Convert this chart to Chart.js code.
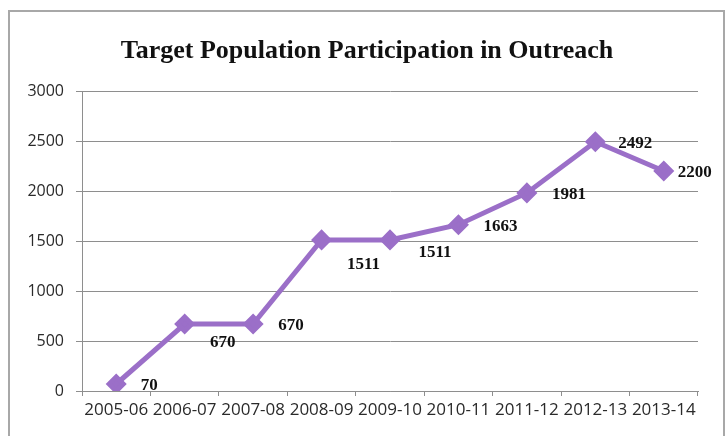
<!DOCTYPE html>
<html>
<head>
<meta charset="utf-8">
<script src="https://cdn.jsdelivr.net/npm/chart.js@4/dist/chart.umd.min.js"></script>
<style>
  body { margin: 0; background: #fff; }
  canvas { display: block; }
</style>
</head>
<body>
<canvas id="chart" width="727" height="436"></canvas>
<script>
// chart data
const seasons = ['2005-06', '2006-07', '2007-08', '2008-09', '2009-10', '2010-11', '2011-12', '2012-13', '2013-14'];
const participation = [70, 670, 670, 1511, 1511, 1663, 1981, 2492, 2200];
const yMin = 0;
const yMax = 3000;
const yStep = 500;
const chartTitle = 'Target Population Participation in Outreach';

const purple = '#9b6fc8';
const gridGray = '#8e8e8e';
const serif = '"Liberation Serif", "Times New Roman", serif';

// grey frame round the whole chart, and the title
const framePlugin = {
  id: 'frame',
  beforeDraw(chart) {
    const ctx = chart.ctx;
    ctx.save();
    ctx.fillStyle = '#fff';
    ctx.fillRect(0, 0, chart.width, chart.height);
    ctx.strokeStyle = '#a8a8a8';
    ctx.lineWidth = 2;
    ctx.strokeRect(9, 11, 715, 440);
    ctx.font = 'bold 26px ' + serif;
    ctx.fillStyle = '#111';
    ctx.textAlign = 'center';
    ctx.textBaseline = 'alphabetic';
    ctx.fillText(chartTitle, 367, 58);
    ctx.restore();
  }
};

// value labels next to each point
const valueLabels = {
  id: 'valueLabels',
  afterDatasetsDraw(chart, args, opts) {
    const ctx = chart.ctx;
    const meta = chart.getDatasetMeta(0);
    ctx.save();
    ctx.font = 'bold 17px ' + serif;
    ctx.fillStyle = '#111';
    ctx.textAlign = 'center';
    ctx.textBaseline = 'middle';
    meta.data.forEach((pt, i) => {
      const off = opts.offsets[i] || [35, 2];
      ctx.fillText(String(chart.data.datasets[0].data[i]), pt.x + off[0], pt.y + off[1]);
    });
    ctx.restore();
  }
};

const ctx = document.getElementById('chart').getContext('2d');
const chart = new Chart(ctx, {
  type: 'line',
  data: {
    labels: seasons,
    datasets: [{
      label: 'Participation',
      data: participation,
      borderColor: purple,
      backgroundColor: purple,
      borderWidth: 5,
      pointStyle: 'rectRot',
      pointRadius: 7,
      pointBackgroundColor: purple,
      pointBorderColor: purple,
      tension: 0
    }]
  },
  options: {
    responsive: false,
    animation: false,
    layout: { padding: { left: 0, right: 29, top: 91, bottom: 0 } },
    plugins: {
      legend: { display: false },
      tooltip: { enabled: false },
      title: { display: false },
      valueLabels: {
        offsets: [[33, 2], [38, 19], [38, 2], [42, 25], [45, 13], [42, 2], [42, 2], [40, 2], [31, 2]]
      }
    },
    scales: {
      x: {
        offset: true,
        afterFit(scale) { scale.height = 45; },
        grid: {
          offset: true,
          drawOnChartArea: false,
          drawTicks: true,
          tickLength: 5,
          color: gridGray
        },
        border: { display: true, color: gridGray, width: 1 },
        ticks: {
          autoSkip: false,
          maxRotation: 0,
          padding: 4,
          color: '#2a2a2a',
          font: { family: '"Open Sans", sans-serif', size: 17 }
        }
      },
      y: {
        min: yMin,
        max: yMax,
        afterFit(scale) { scale.width = 82; },
        grid: {
          color: gridGray,
          lineWidth: 1,
          drawTicks: true,
          tickLength: 6
        },
        border: { display: true, color: gridGray, width: 1 },
        ticks: {
          stepSize: yStep,
          padding: 12,
          color: '#2a2a2a',
          font: { family: '"Open Sans", sans-serif', size: 16 },
          callback: (v) => String(v)
        }
      }
    }
  },
  plugins: [framePlugin, valueLabels]
});
</script>
</body>
</html>
